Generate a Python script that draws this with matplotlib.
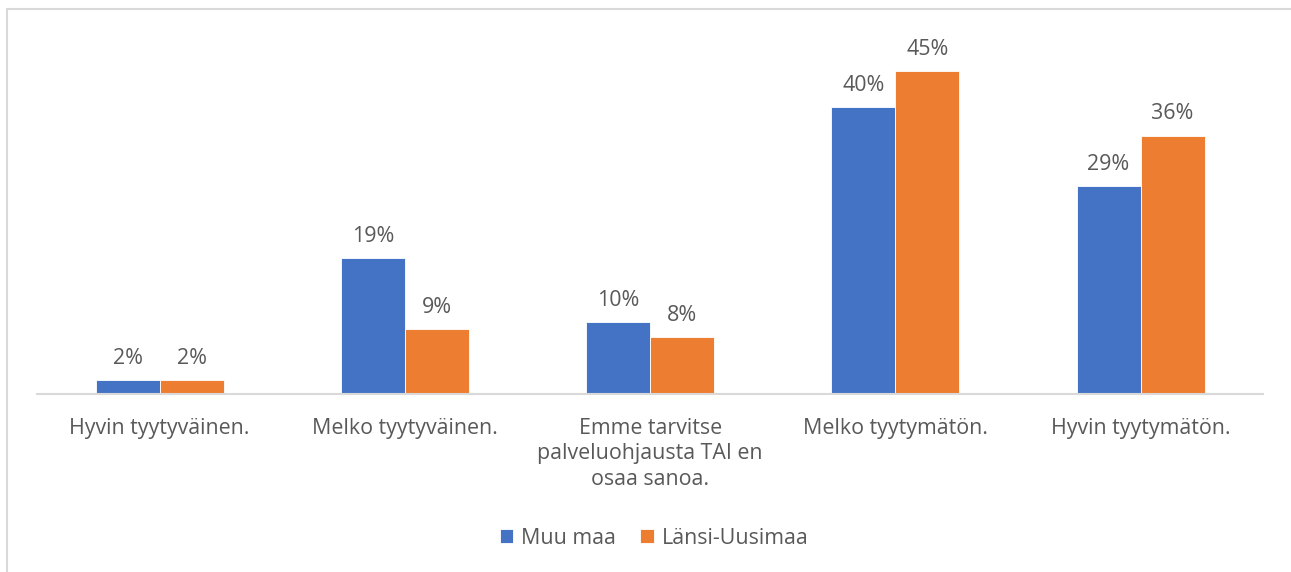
import matplotlib.pyplot as plt
from matplotlib.patches import Rectangle
import numpy as np

plt.rcParams.update({
    'font.family': ['Open Sans', 'DejaVu Sans'],
    'font.size': 15.4,
})

categories = ['Hyvin tyytyväinen.', 'Melko tyytyväinen.',
              'Emme tarvitse\npalveluohjausta TAI en\nosaa sanoa.',
              'Melko tyytymätön.', 'Hyvin tyytymätön.']
muu_maa = [2, 19, 10, 40, 29]
lansi_uusimaa = [2, 9, 8, 45, 36]
series_names = ['Muu maa', 'Länsi-Uusimaa']
colors = ['#4472C4', '#ED7D31']
text_color = '#595959'

fig = plt.figure(figsize=(12.91, 5.72), dpi=100)
ax = fig.add_axes([0.0287, 0.3112, 0.9497, 0.6276])

# kehys kuvan ympärillä
fig.patches.append(Rectangle((7 / 1291, -0.1), 1.2, 1.1 - 9 / 572, transform=fig.transFigure,
                             fill=False, edgecolor='#d9d9d9', linewidth=1.5))

x = np.arange(len(categories))
w = 0.261
bars = []
for i, (vals, name) in enumerate(zip([muu_maa, lansi_uusimaa], series_names)):
    b = ax.bar(x + (i - 0.5) * w, vals, w, color=colors[i], label=name,
               edgecolor='white', linewidth=0.6)
    bars.append(b)
    for rect, v in zip(b, vals):
        ax.annotate(f'{v}%', (rect.get_x() + rect.get_width() / 2, v),
                    xytext=(0, 15.5), textcoords='offset points',
                    ha='center', va='center', color=text_color)

ax.set_xlim(-0.5, len(categories) - 0.5)
ax.set_ylim(0, 50)
ax.set_yticks([])
for s in ['top', 'right', 'left']:
    ax.spines[s].set_visible(False)
ax.spines['bottom'].set_color('#d9d9d9')
ax.spines['bottom'].set_linewidth(1.5)
ax.grid(False)
ax.set_xticks(x)
ax.set_xticklabels(categories, color=text_color, linespacing=1.3)
ax.tick_params(axis='x', length=0, pad=17)

fig.legend(handles=bars, labels=series_names, loc='center', bbox_to_anchor=(654 / 1291, 1 - 538 / 572),
           ncol=2, frameon=False, labelcolor=text_color,
           handlelength=0.65, handleheight=0.65, handletextpad=0.35, columnspacing=1.15)

fig.savefig('out.png', dpi=100)
